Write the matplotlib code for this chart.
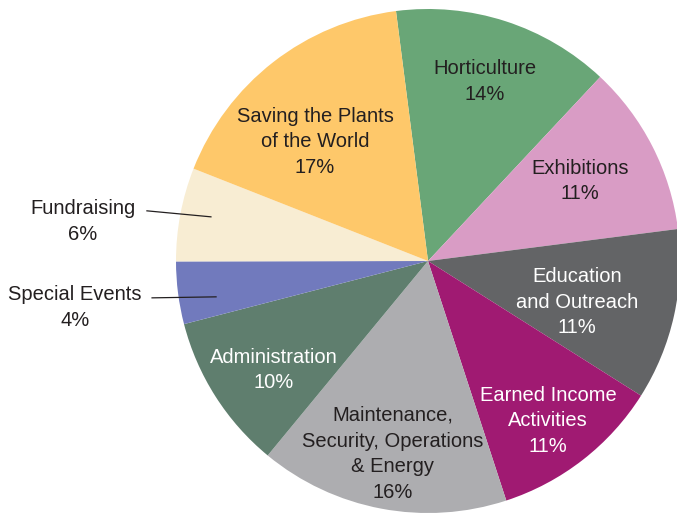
import numpy as np
import matplotlib

matplotlib.use("Agg")
import matplotlib.pyplot as plt

# Дані
labels = ["Horticulture", "Exhibitions", "Education\nand Outreach",
          "Earned Income\nActivities", "Maintenance,\nSecurity, Operations\n& Energy",
          "Administration", "Special Events", "Fundraising",
          "Saving the Plants\nof the World"]
shares = [14, 11, 11, 11, 16, 10, 4, 6, 17]
colors = ["#69a677", "#d99cc5", "#636466", "#a01a72", "#adadb0",
          "#5f7e6e", "#717abd", "#f8edd3", "#fec86a"]
text_colors = ["#231f20", "#231f20", "white", "white", "#231f20",
               "white", "#231f20", "#231f20", "#231f20"]

# Позиції підписів: частка радіуса та зсув кута (градуси)
label_r = [0.754, 0.686, 0.611, 0.787, 0.771, 0.744, 0.853, 0.879, 0.657]
label_da = [0.4, 1.2, -2.2, -0.7, 0.3, 2.3, 2.3, -0.8, 5.1]
# підписи зовні: зсув тексту та зсув кінця лінії (пікселі)
outside = {6: ((-141, -8.5), (-64, -1)),
           7: ((-128, -2.5), (-64, 6))}

plt.rcParams["font.family"] = ["Liberation Sans", "DejaVu Sans"]

fig = plt.figure(figsize=(6.77, 5.14), dpi=100)
ax = fig.add_axes([0, 0, 1, 1])

cx, cy, R = 428, 253, 252
start = 97.3
wedges, _ = ax.pie(shares, colors=colors, startangle=start, counterclock=False,
                   center=(cx, cy), radius=R, frame=True,
                   wedgeprops=dict(linewidth=0))
ax.set_xlim(0, 677)
ax.set_ylim(0, 514)
ax.set_aspect("equal")
ax.axis("off")

dy_txt = -2  # невелике зміщення тексту вниз
for i, w in enumerate(wedges):
    mid = np.deg2rad((w.theta1 + w.theta2) / 2 + label_da[i])
    txt = labels[i] + "\n" + f"{shares[i]}%"
    r = label_r[i] * R
    x0 = cx + r * np.cos(mid)
    y0 = cy + r * np.sin(mid)
    if i not in outside:
        ax.text(x0, y0 + dy_txt, txt, ha="center", va="center", fontsize=14.5,
                color=text_colors[i], linespacing=1.45)
    else:
        (ox, oy), (lx, ly) = outside[i]
        ax.plot([x0, x0 + lx], [y0, y0 + ly], color="#231f20", lw=0.9)
        ax.text(x0 + ox, y0 + oy + dy_txt, txt, ha="center", va="center",
                fontsize=14.5, color=text_colors[i], linespacing=1.45)

fig.savefig("out.png", dpi=100)
